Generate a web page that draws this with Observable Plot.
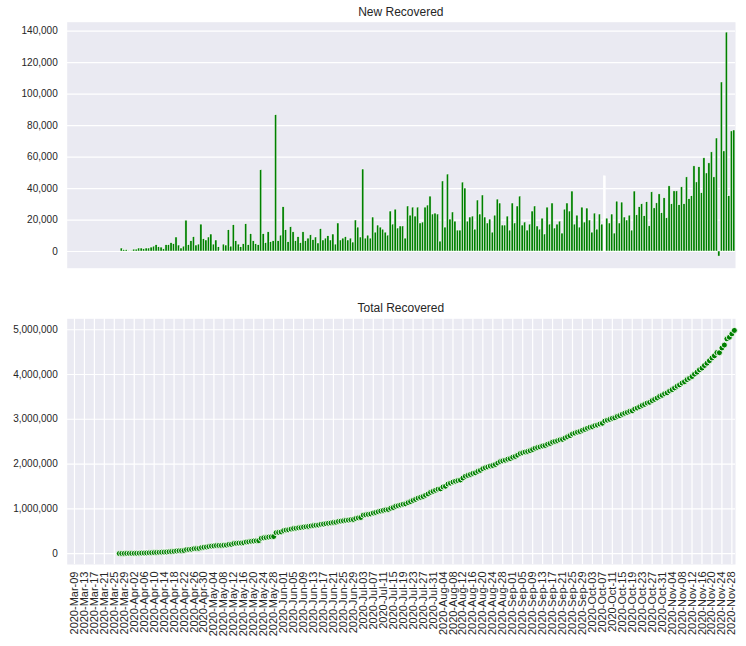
<!DOCTYPE html>
<html><head><meta charset="utf-8">
<script src="https://cdn.jsdelivr.net/npm/d3@7"></script>
<script src="https://cdn.jsdelivr.net/npm/@observablehq/plot@0.6"></script>
<style>
body{margin:0;background:#fff;font-family:"Liberation Sans",Arial,sans-serif;}
#fig{position:relative;width:746px;height:646px;overflow:hidden;}
.title{position:absolute;left:66.7px;width:668.3px;text-align:center;font-size:12px;color:#262626;line-height:12px;white-space:nowrap;}
#top{position:absolute;left:0;top:0;}
#bottom{position:absolute;left:0;top:270px;}
</style></head><body>
<div id="fig">
<div class="title" style="top:6px">New Recovered</div>
<div id="top"></div>
<div class="title" style="top:302px">Total Recovered</div>
<div id="bottom"></div>
</div>
<script>
// ---- data ----
const startDate = "2020-03-27"; // first day of the daily series
const newRecovered = [
0,1900,900,900,300,300,1200,1200,1900,1900,
1400,1900,1900,2500,3100,4000,2700,2500,1400,4000,
4000,5300,4600,8900,3800,1900,3100,19600,4000,6500,
9100,3800,4400,17100,7800,7000,8900,10800,4400,7000,
2700,300,4400,3800,13500,3100,16700,6500,4400,2700,
4600,17300,4000,11000,6500,4600,4000,51600,11000,5300,
12200,5900,6500,86600,6500,10100,28100,13500,5900,15400,
12200,6500,9100,5300,12200,6500,8200,10300,7200,8900,
5100,14200,7000,8200,9700,7000,10800,4400,17800,7000,
8200,9100,7000,8200,5700,19700,15200,8900,52100,8200,
10100,8200,21600,12000,16500,15200,13900,12000,10100,25400,
17100,26600,14600,15900,15900,8200,28600,22800,27900,22200,
27900,17800,18400,27900,29200,34900,23500,24100,23500,6300,
44500,15200,48900,20300,24800,19000,13300,13300,43800,40000,
19000,21600,22200,13900,32400,23500,35600,21600,17800,20300,
12000,22800,33000,30500,16500,16500,22200,13300,30500,17800,
28600,34900,16500,18400,13300,17100,25400,28600,15900,13900,
20900,10800,27900,17100,30500,14600,17100,19000,11400,26600,
30500,25400,38100,17100,22800,15200,27900,18400,27300,19700,
12000,24100,13900,23500,17100,47800,20900,17800,23500,11400,
31700,17800,31100,21600,19700,22800,13300,38100,23000,28100,
30000,22400,31300,16000,37600,27400,30600,36300,24300,33800,
21100,41400,30000,38200,38200,29400,40800,30000,47100,33200,
35100,54100,43900,53500,37000,59200,49600,56000,63000,47100,
71800,-3200,107400,63600,139100,35100,76300,76900
];
const totalRecovered = [
0,1900,2800,3700,4000,4300,5500,6700,8600,10500,
11900,13800,15700,18200,21300,25300,28000,30500,31900,35900,
39900,45200,49800,58700,62500,64400,67500,87100,91100,97600,
106700,110500,114900,132000,139800,146800,155700,166500,170900,177900,
180600,180900,185300,189100,202600,205700,222400,228900,233300,236000,
240600,257900,261900,272900,279400,284000,288000,339600,350600,355900,
368100,374000,380500,467100,473600,483700,511800,525300,531200,546600,
558800,565300,574400,579700,591900,598400,606600,616900,624100,633000,
638100,652300,659300,667500,677200,684200,695000,699400,717200,724200,
732400,741500,748500,756700,762400,782100,797300,806200,858300,866500,
876600,884800,906400,918400,934900,950100,964000,976000,986100,1011500,
1028600,1055200,1069800,1085700,1101600,1109800,1138400,1161200,1189100,1211300,
1239200,1257000,1275400,1303300,1332500,1367400,1390900,1415000,1438500,1444800,
1489300,1504500,1553400,1573700,1598500,1617500,1630800,1644100,1687900,1727900,
1746900,1768500,1790700,1804600,1837000,1860500,1896100,1917700,1935500,1955800,
1967800,1990600,2023600,2054100,2070600,2087100,2109300,2122600,2153100,2170900,
2199500,2234400,2250900,2269300,2282600,2299700,2325100,2353700,2369600,2383500,
2404400,2415200,2443100,2460200,2490700,2505300,2522400,2541400,2552800,2579400,
2609900,2635300,2673400,2690500,2713300,2728500,2756400,2774800,2802100,2821800,
2833800,2857900,2871800,2895300,2912400,2960200,2981100,2998900,3022400,3033800,
3065500,3083300,3114400,3136000,3155700,3178500,3191800,3229900,3252900,3281000,
3311000,3333400,3364700,3380700,3418300,3445700,3476300,3512600,3536900,3570700,
3591800,3633200,3663200,3701400,3739600,3769000,3809800,3839800,3886900,3920100,
3955200,4009300,4053200,4106700,4143700,4202900,4252500,4308500,4371500,4418600,
4490400,4487200,4594600,4658200,4797300,4832400,4908700,4985600
];
const firstTickDate = "2020-03-09";
const tickStepDays = 4;
const tickCount = 67;
const yTicksTop = [0,20000,40000,60000,80000,100000,120000,140000];
const yTicksBottom = [0,1000000,2000000,3000000,4000000,5000000];
const whiteBarDate = "2020-10-08";

// ---- build ----
const t0 = new Date(startDate + "T00:00:00Z");
const tick0 = new Date(firstTickDate + "T00:00:00Z");
const rows = newRecovered.map((v, i) => ({
  date: d3.utcDay.offset(t0, i),
  newRec: v,
  total: totalRecovered[i]
}));
const whiteT = +new Date(whiteBarDate + "T00:00:00Z");
const xTicks = d3.range(tickCount).map(k => d3.utcDay.offset(tick0, k * tickStepDays));
const xDomain = [d3.utcHour.offset(tick0, -70), d3.utcHour.offset(tick0, 6371)];
const font = '"Liberation Sans", Arial, sans-serif';
const bg = "#EAEAF2";
const ink = "#262626";

const topChart = Plot.plot({
  width: 746, height: 270,
  marginTop: 21.7, marginBottom: 2.3, marginLeft: 66.7, marginRight: 11,
  style: {fontFamily: font, fontSize: "10px", color: ink, background: "transparent", overflow: "visible"},
  x: {type: "utc", domain: xDomain, axis: null},
  y: {domain: [-10600, 145700], axis: null},
  marks: [
    Plot.frame({fill: bg, stroke: null}),
    Plot.ruleY(yTicksTop, {stroke: "white", strokeWidth: 1.2}),
    Plot.axisY(yTicksTop, {tickFormat: d3.format(","), tickSize: 0, tickPadding: 9.5, label: null, fill: ink, fontSize: 10}),
    Plot.rectY(rows, {
      x1: d => d3.utcHour.offset(d.date, -10.5),
      x2: d => d3.utcHour.offset(d.date, 10.5),
      y1: 0, y2: "newRec",
      fill: d => (+d.date === whiteT ? "white" : "green"),
      stroke: "white", strokeWidth: 0.45
    })
  ]
});
document.getElementById("top").append(topChart);

const bottomChart = Plot.plot({
  width: 746, height: 376,
  marginTop: 48.3, marginBottom: 82, marginLeft: 66.7, marginRight: 11,
  style: {fontFamily: font, fontSize: "10px", color: ink, background: "transparent", overflow: "visible"},
  x: {type: "utc", domain: xDomain, axis: null},
  y: {domain: [-245000, 5245000], axis: null},
  marks: [
    Plot.frame({fill: bg, stroke: null}),
    Plot.ruleY(yTicksBottom, {stroke: "white", strokeWidth: 1.2}),
    Plot.ruleX(xTicks, {stroke: "white", strokeWidth: 1.2}),
    Plot.axisY(yTicksBottom, {tickFormat: d3.format(","), tickSize: 0, tickPadding: 9.5, label: null, fill: ink, fontSize: 10}),
    Plot.axisX(xTicks, {tickFormat: d3.utcFormat("%Y-%b-%d"), tickRotate: -90, tickSize: 0, tickPadding: 7, label: null, fill: ink, fontSize: 11}),
    Plot.dot(rows, {x: "date", y: "total", r: 3, fill: "green", stroke: "white", strokeWidth: 0.9})
  ]
});
document.getElementById("bottom").append(bottomChart);
</script>
</body></html>
